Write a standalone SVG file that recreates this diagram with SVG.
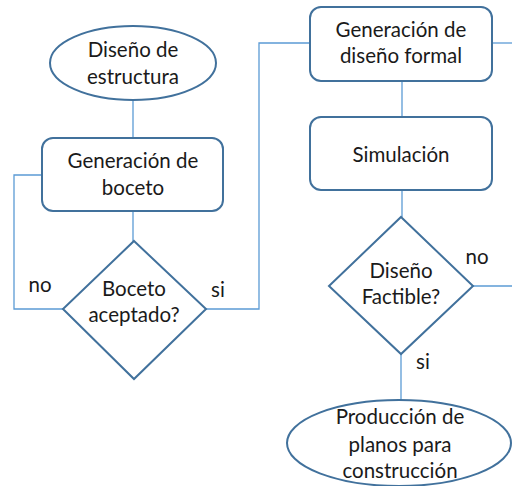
<svg xmlns="http://www.w3.org/2000/svg" width="512" height="486" viewBox="0 0 512 486">
<style>
.shape{fill:#ffffff;stroke:#41719c;stroke-width:2}
.conn{fill:none;stroke:#5b9bd5;stroke-width:1.3}
text{font-family:Lato,"Open Sans",sans-serif;font-size:20.5px;fill:#1a1a1a;text-anchor:middle}
</style>
<rect width="512" height="486" fill="#ffffff"/>
<g id="connectors">
<line class="conn" x1="133" y1="101" x2="133" y2="138"/>
<line class="conn" x1="133" y1="211" x2="133" y2="241"/>
<polyline class="conn" points="42,175 14,175 14,309 63,309"/>
<polyline class="conn" points="206,309 259,309 259,43 310,43"/>
<line class="conn" x1="492" y1="43" x2="512" y2="43"/>
<line class="conn" x1="402" y1="81" x2="402" y2="117"/>
<line class="conn" x1="402" y1="190" x2="402" y2="217"/>
<line class="conn" x1="473" y1="286" x2="512" y2="286"/>
<line class="conn" x1="401" y1="354" x2="401" y2="400"/>
</g>
<g id="n1">
<ellipse class="shape" cx="133" cy="63" rx="83" ry="37"/>
<text x="133" y="57">Diseño de</text>
<text x="133" y="84">estructura</text>
</g>
<g id="n2">
<rect class="shape" x="42" y="138" width="181" height="73" rx="11"/>
<text x="133" y="168">Generación de</text>
<text x="133" y="195">boceto</text>
</g>
<g id="n3">
<polygon class="shape" points="134,241 206,309 134,379 63,309"/>
<text x="134" y="296">Boceto</text>
<text x="134" y="322">aceptado?</text>
</g>
<text x="40" y="292">no</text>
<text x="218" y="297">si</text>
<g id="n4">
<rect class="shape" x="310" y="7" width="182" height="74" rx="11"/>
<text x="401" y="37">Generación de</text>
<text x="401" y="63">diseño formal</text>
</g>
<g id="n5">
<rect class="shape" x="310" y="117" width="182" height="73" rx="11"/>
<text x="401" y="162">Simulación</text>
</g>
<g id="n6">
<polygon class="shape" points="401,217 473,286 401,354 329,286"/>
<text x="401" y="278">Diseño</text>
<text x="401" y="304">Factible?</text>
</g>
<text x="477" y="264">no</text>
<text x="423" y="369">si</text>
<g id="n7">
<ellipse class="shape" cx="399" cy="443" rx="112" ry="43"/>
<text x="400" y="424">Producción de</text>
<text x="400" y="452">planos para</text>
<text x="400" y="478">construcción</text>
</g>
</svg>
